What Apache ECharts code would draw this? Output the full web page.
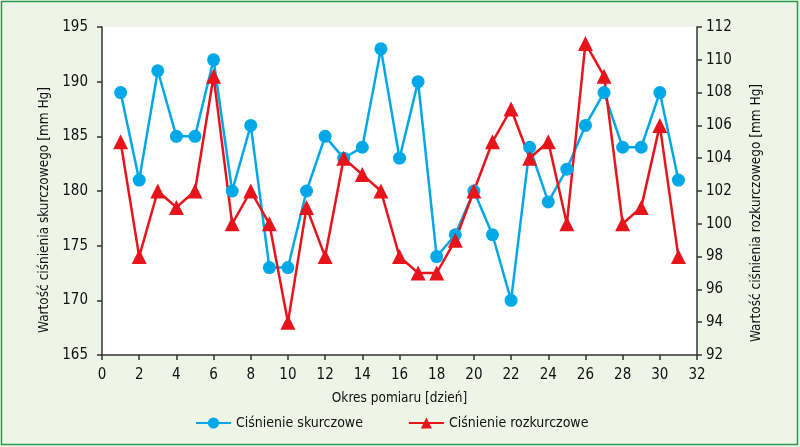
<!DOCTYPE html>
<html><head><meta charset="utf-8">
<script src="https://cdn.jsdelivr.net/npm/echarts@6/dist/echarts.min.js"></script>
<style>html,body{margin:0;padding:0;background:#fff}#c{width:800px;height:447px}</style>
</head><body><div id="c"></div>
<script>
const days = [1,2,3,4,5,6,7,8,9,10,11,12,13,14,15,16,17,18,19,20,21,22,23,24,25,26,27,28,29,30,31];
const systolic = [189,181,191,185,185,192,180,186,173,173,180,185,183,184,193,183,190,174,176,180,176,170,184,179,182,186,189,184,184,189,181];
const diastolic = [105,98,102,101,102,109,100,102,100,94,101,98,104,103,102,98,97,97,99,102,105,107,104,105,100,111,109,100,101,106,98];
const seriesNames = ['Ciśnienie skurczowe','Ciśnienie rozkurczowe'];
const xName = 'Okres pomiaru [dzień]';
const yLeftName = 'Wartość ciśnienia skurczowego [mm Hg]';
const yRightName = 'Wartość ciśnienia rozkurczowego [mm Hg]';

const font = '"DejaVu Sans Condensed", "Liberation Sans Narrow", sans-serif';
const axisCol = '#333';
const chart = echarts.init(document.getElementById('c'));
const axisCommon = {
  axisLine:{show:true,lineStyle:{color:axisCol,width:1.5}},
  axisTick:{show:true,length:5,lineStyle:{color:axisCol,width:1.5}},
  splitLine:{show:false},
  axisLabel:{color:'#111',fontFamily:font,fontSize:15},
  nameTextStyle:{color:'#111',fontFamily:font,fontSize:13.5}
};
chart.setOption({
  backgroundColor:'#eef5e6',
  animation:false,
  graphic:[{type:'rect',shape:{x:1.5,y:1.5,width:796,height:443},style:{fill:'none',stroke:'#2e9a50',lineWidth:1.5},silent:true}],
  grid:{left:102,right:103,top:27,bottom:92,show:true,backgroundColor:'#fff',borderWidth:0},
  legend:{top:411,left:190,itemWidth:35,itemHeight:14,itemGap:45,
    textStyle:{fontFamily:font,fontSize:14,color:'#111'},data:seriesNames},
  xAxis:Object.assign({},axisCommon,{type:'value',min:0,max:32,interval:2,name:xName,nameLocation:'middle',nameGap:36,
    axisLabel:Object.assign({},axisCommon.axisLabel,{margin:13})}),
  yAxis:[
    Object.assign({},axisCommon,{type:'value',min:165,max:195,interval:5,position:'left',name:yLeftName,nameLocation:'middle',nameGap:49,
      nameTextStyle:Object.assign({},axisCommon.nameTextStyle,{padding:[0,38,0,0]}),
      axisLabel:Object.assign({},axisCommon.axisLabel,{margin:14})}),
    Object.assign({},axisCommon,{type:'value',min:92,max:112,interval:2,position:'right',name:yRightName,nameLocation:'middle',nameGap:52,nameRotate:90,
      nameTextStyle:Object.assign({},axisCommon.nameTextStyle,{padding:[0,44,0,0]}),
      axisLabel:Object.assign({},axisCommon.axisLabel,{margin:9})})
  ],
  series:[
    {name:seriesNames[0],type:'line',yAxisIndex:0,data:days.map((d,i)=>[d,systolic[i]]),
     symbol:'circle',symbolSize:13,lineStyle:{color:'#00a8e8',width:2.5},itemStyle:{color:'#00a8e8'}},
    {name:seriesNames[1],type:'line',yAxisIndex:1,data:days.map((d,i)=>[d,diastolic[i]]),
     symbol:'triangle',symbolSize:15,lineStyle:{color:'#e8141c',width:2.5},itemStyle:{color:'#e8141c'}}
  ]
});
</script></body></html>
